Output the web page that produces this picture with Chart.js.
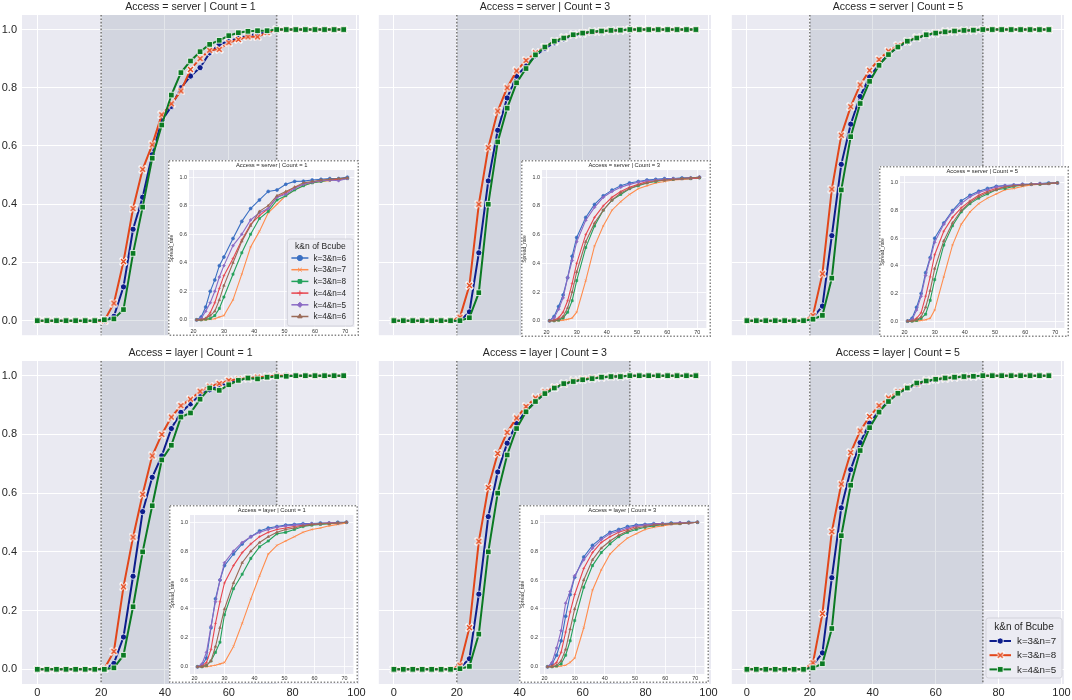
<!DOCTYPE html>
<html>
<head>
<meta charset="utf-8">
<script src="https://cdn.jsdelivr.net/npm/chart.js@4.4.0/dist/chart.umd.min.js"></script>
<style>
  html, body { margin: 0; padding: 0; background: #fff; }
  #wrap { position: relative; width: 1072px; height: 700px; overflow: hidden; }
  #wrap canvas { position: absolute; }
</style>
</head>
<body>
<div id="wrap"></div>
<script>
// ---- data ----
const X_MAIN = [0, 3, 6, 9, 12, 15, 18, 21, 24, 27, 30, 33, 36, 39, 42, 45, 48, 51, 54, 57, 60, 63, 66, 69, 72, 75, 78, 81, 84, 87, 90, 93, 96];
const X_TICKS = [0, 20, 40, 60, 80, 100];
const Y_TICKS = [0, 0.2, 0.4, 0.6, 0.8, 1.0];
const SHADE_FROM = 20, SHADE_TO = 75;
const MAIN_LABELS = ['k=3&n=7', 'k=3&n=8', 'k=4&n=5'];

// Access = server
const srv1_k3n7 = [0,0,0,0,0,0,0,0, 0.015,0.116,0.314,0.424,0.57,0.687,0.736,0.80,0.84,0.869,0.92,0.949,0.96,0.97,0.98,0.985,0.99, 1,1,1,1,1,1,1,1];
const srv1_k3n8 = [0,0,0,0,0,0,0,0, 0.06,0.203,0.385,0.52,0.604,0.707,0.745,0.789,0.863,0.90,0.929,0.932,0.955,0.966,0.975,0.975,0.99, 1,1,1,1,1,1,1,1];
const srv1_k4n5 = [0,0,0,0,0,0,0,0.003, 0.006,0.038,0.231,0.39,0.558,0.672,0.775,0.852,0.892,0.924,0.949,0.963,0.979,0.989,0.994,0.996,0.996, 1,1,1,1,1,1,1,1];
const srv3_k3n7 = [0,0,0,0,0,0,0,0, 0.03,0.233,0.48,0.654,0.765,0.84,0.875,0.91,0.935,0.955,0.968,0.98,0.986,0.99,0.994,0.996,0.998, 1,1,1,1,1,1,1,1];
const srv3_k3n8 = [0,0,0,0,0,0,0,0.012, 0.121,0.40,0.594,0.72,0.80,0.858,0.894,0.92,0.94,0.96,0.972,0.982,0.988,0.992,0.995,0.997,0.998, 1,1,1,1,1,1,1,1];
const srv3_k4n5 = [0,0,0,0,0,0,0,0, 0.01,0.096,0.40,0.614,0.73,0.817,0.866,0.913,0.94,0.96,0.971,0.982,0.988,0.993,0.995,0.997,0.998, 1,1,1,1,1,1,1,1];
const srv5_k3n7 = [0,0,0,0,0,0,0,0.01, 0.05,0.292,0.537,0.675,0.77,0.837,0.88,0.915,0.94,0.958,0.97,0.98,0.986,0.99,0.994,0.996,0.998, 1,1,1,1,1,1,1,1];
const srv5_k3n8 = [0,0,0,0,0,0,0,0.018, 0.161,0.452,0.637,0.735,0.81,0.86,0.897,0.926,0.945,0.96,0.972,0.982,0.988,0.992,0.995,0.997,0.998, 1,1,1,1,1,1,1,1];
const srv5_k4n5 = [0,0,0,0,0,0,0,0.005, 0.018,0.146,0.449,0.632,0.746,0.822,0.877,0.914,0.94,0.96,0.971,0.982,0.988,0.992,0.995,0.997,0.998, 1,1,1,1,1,1,1,1];
// Access = layer
const lay1_k3n7 = [0,0,0,0,0,0,0,0, 0.02,0.11,0.317,0.537,0.654,0.727,0.82,0.875,0.904,0.935,0.952,0.965,0.975,0.985,0.99,0.993,0.996, 0.998,1,1,1,1,1,1,1];
const lay1_k3n8 = [0,0,0,0,0,0,0,0.002, 0.061,0.281,0.45,0.596,0.727,0.80,0.859,0.898,0.92,0.947,0.964,0.973,0.984,0.988,0.992,0.995,0.997, 1,1,1,1,1,1,1,1];
const lay1_k4n5 = [0,0,0,0,0,0,0,0, 0.005,0.048,0.213,0.40,0.557,0.713,0.763,0.859,0.873,0.92,0.958,0.95,0.969,0.984,0.992,0.989,0.995, 0.997,0.998,1,1,1,1,1,1];
const lay3_k3n7 = [0,0,0,0,0,0,0,0.005, 0.036,0.256,0.52,0.672,0.77,0.838,0.88,0.912,0.94,0.958,0.97,0.98,0.986,0.99,0.994,0.996,0.998, 1,1,1,1,1,1,1,1];
const lay3_k3n8 = [0,0,0,0,0,0,0,0.014, 0.142,0.436,0.619,0.735,0.807,0.856,0.895,0.924,0.945,0.96,0.972,0.982,0.988,0.992,0.995,0.997,0.998, 1,1,1,1,1,1,1,1];
const lay3_k4n5 = [0,0,0,0,0,0,0,0.002, 0.01,0.12,0.40,0.60,0.73,0.82,0.877,0.912,0.939,0.958,0.973,0.98,0.986,0.99,0.995,0.997,0.997, 1,1,1,1,1,1,1,1];
const lay5_k3n7 = [0,0,0,0,0,0,0,0.014, 0.056,0.312,0.55,0.68,0.772,0.838,0.88,0.913,0.94,0.958,0.97,0.98,0.986,0.99,0.994,0.996,0.998, 1,1,1,1,1,1,1,1];
const lay5_k3n8 = [0,0,0,0,0,0,0,0.022, 0.19,0.469,0.631,0.738,0.812,0.861,0.898,0.924,0.945,0.96,0.972,0.982,0.988,0.992,0.995,0.997,0.998, 1,1,1,1,1,1,1,1];
const lay5_k4n5 = [0,0,0,0,0,0,0,0.005, 0.019,0.139,0.455,0.627,0.745,0.823,0.876,0.912,0.94,0.958,0.975,0.982,0.988,0.992,0.995,0.997,0.998, 1,1,1,1,1,1,1,1];

// insets (zoomed 20..70 view, six configurations)
const X_INSET = [21, 22.5, 24, 25.5, 27, 28.5, 30, 33, 35.9, 38.8, 41.7, 44.6, 47.5, 50.4, 53.3, 56.2, 59.1, 62, 64.9, 67.8, 70.7];
const X_INSET_TICKS = [20, 30, 40, 50, 60, 70];
const INSET_LABELS = ['k=3&n=6', 'k=3&n=7', 'k=3&n=8', 'k=4&n=4', 'k=4&n=5', 'k=4&n=6'];

const in_srv1_k3n6 = [0,0.02,0.09,0.2,0.28,0.38,0.44,0.57,0.69,0.78,0.84,0.9,0.91,0.95,0.97,0.972,0.98,0.985,0.99,0.99,1.0];
const in_srv1_k3n7 = [0,0,0,0.005,0.008,0.02,0.03,0.14,0.32,0.51,0.62,0.75,0.81,0.87,0.91,0.94,0.96,0.97,0.975,0.985,0.99];
const in_srv1_k3n8 = [0,0,0.005,0.01,0.03,0.08,0.16,0.32,0.47,0.6,0.71,0.76,0.84,0.87,0.91,0.94,0.96,0.97,0.98,0.985,0.99];
const in_srv1_k4n4 = [0,0.005,0.01,0.05,0.12,0.22,0.31,0.43,0.56,0.67,0.73,0.78,0.86,0.89,0.93,0.95,0.965,0.975,0.98,0.985,0.99];
const in_srv1_k4n5 = [0,0.01,0.06,0.12,0.2,0.3,0.38,0.52,0.6,0.7,0.75,0.78,0.86,0.88,0.92,0.95,0.965,0.975,0.98,0.975,0.99];
const in_srv1_k4n6 = [0,0,0.01,0.03,0.06,0.14,0.24,0.4,0.55,0.66,0.76,0.8,0.87,0.9,0.93,0.96,0.97,0.98,0.985,0.99,0.995];

const in_srv3_k3n6 = [0,0.03,0.1,0.18,0.3,0.45,0.58,0.72,0.81,0.87,0.91,0.94,0.96,0.97,0.98,0.985,0.99,0.99,0.995,0.995,1.0];
const in_srv3_k3n7 = [0,0,0,0.005,0.01,0.02,0.06,0.28,0.52,0.66,0.77,0.83,0.88,0.92,0.94,0.96,0.97,0.98,0.985,0.99,0.995];
const in_srv3_k3n8 = [0,0,0.005,0.02,0.06,0.14,0.28,0.51,0.66,0.77,0.84,0.88,0.92,0.94,0.96,0.97,0.98,0.985,0.99,0.99,0.995];
const in_srv3_k4n4 = [0,0.005,0.02,0.06,0.14,0.26,0.4,0.6,0.72,0.8,0.86,0.9,0.93,0.95,0.97,0.975,0.98,0.985,0.99,0.99,0.995];
const in_srv3_k4n5 = [0,0.02,0.08,0.16,0.3,0.42,0.55,0.7,0.79,0.86,0.9,0.93,0.95,0.965,0.975,0.98,0.985,0.99,0.99,0.995,1.0];
const in_srv3_k4n6 = [0,0,0.01,0.03,0.09,0.2,0.34,0.55,0.68,0.77,0.84,0.89,0.92,0.945,0.96,0.975,0.98,0.985,0.99,0.995,1.0];

const in_srv5_k3n6 = [0,0.02,0.1,0.2,0.35,0.46,0.6,0.71,0.8,0.87,0.91,0.94,0.96,0.975,0.98,0.985,0.99,0.99,0.995,1.0,1.0];
const in_srv5_k3n7 = [0,0,0,0.005,0.01,0.02,0.08,0.32,0.55,0.7,0.79,0.85,0.89,0.92,0.95,0.96,0.975,0.985,0.99,0.995,1.0];
const in_srv5_k3n8 = [0,0,0.005,0.02,0.05,0.15,0.3,0.55,0.69,0.79,0.85,0.89,0.92,0.95,0.96,0.975,0.985,0.99,0.99,0.995,1.0];
const in_srv5_k4n4 = [0,0.005,0.02,0.06,0.18,0.32,0.48,0.65,0.75,0.82,0.87,0.91,0.94,0.96,0.97,0.98,0.985,0.99,0.995,0.995,1.0];
const in_srv5_k4n5 = [0,0.01,0.08,0.18,0.33,0.45,0.57,0.7,0.79,0.85,0.9,0.93,0.95,0.97,0.98,0.985,0.99,0.99,0.995,0.995,1.0];
const in_srv5_k4n6 = [0,0,0.01,0.03,0.1,0.22,0.38,0.58,0.71,0.8,0.86,0.9,0.93,0.95,0.97,0.98,0.985,0.99,0.99,0.995,1.0];

const in_lay1_k3n6 = [0,0.01,0.06,0.27,0.47,0.6,0.7,0.78,0.85,0.9,0.94,0.96,0.97,0.98,0.985,0.99,0.99,0.995,0.995,1.0,1.0];
const in_lay1_k3n7 = [0,0,0,0.005,0.01,0.02,0.03,0.14,0.3,0.47,0.63,0.78,0.84,0.87,0.9,0.93,0.95,0.96,0.975,0.985,0.995];
const in_lay1_k3n8 = [0,0,0.01,0.04,0.1,0.17,0.36,0.54,0.64,0.75,0.83,0.87,0.92,0.93,0.95,0.97,0.98,0.985,0.99,0.995,1.0];
const in_lay1_k4n4 = [0,0.005,0.03,0.12,0.3,0.45,0.58,0.7,0.79,0.85,0.9,0.93,0.95,0.96,0.97,0.98,0.985,0.99,0.995,0.995,1.0];
const in_lay1_k4n5 = [0,0.02,0.1,0.28,0.45,0.6,0.72,0.8,0.86,0.9,0.93,0.95,0.965,0.975,0.98,0.985,0.99,0.99,0.995,0.995,1.0];
const in_lay1_k4n6 = [0,0,0.01,0.04,0.14,0.27,0.4,0.58,0.72,0.8,0.86,0.9,0.93,0.95,0.96,0.975,0.985,0.99,0.99,0.995,1.0];

const in_lay3_k3n6 = [0,0.02,0.08,0.18,0.35,0.5,0.62,0.76,0.84,0.89,0.93,0.95,0.97,0.98,0.985,0.99,0.99,0.995,0.995,1.0,1.0];
const in_lay3_k3n7 = [0,0,0,0.005,0.01,0.03,0.06,0.27,0.53,0.67,0.78,0.84,0.89,0.92,0.95,0.965,0.975,0.985,0.99,0.995,1.0];
const in_lay3_k3n8 = [0,0,0.005,0.02,0.08,0.18,0.32,0.55,0.7,0.79,0.85,0.9,0.93,0.95,0.965,0.975,0.985,0.99,0.99,0.995,1.0];
const in_lay3_k4n4 = [0,0.005,0.03,0.1,0.24,0.38,0.5,0.68,0.79,0.86,0.9,0.93,0.95,0.97,0.98,0.985,0.99,0.99,0.995,0.995,1.0];
const in_lay3_k4n5 = [0,0.03,0.13,0.25,0.44,0.52,0.63,0.74,0.82,0.88,0.92,0.94,0.96,0.975,0.98,0.985,0.99,0.99,0.995,0.995,1.0];
const in_lay3_k4n6 = [0,0,0.01,0.04,0.12,0.26,0.4,0.6,0.74,0.82,0.87,0.91,0.94,0.96,0.97,0.98,0.985,0.99,0.99,0.995,1.0];

// ---- styles ----
const FONT = '"Liberation Sans", Arial, sans-serif';
const TEXT = '#262626';
const BG = '#EAEAF2';
const MAIN_COLORS = ['#0d1d8c', '#e2461a', '#0b7a23'];
const INSET_COLORS = ['#3a6fc2', '#ff8c4c', '#23a15b', '#e8454e', '#8b6ac4', '#9a6a57'];
const INSET_MARKERS = ['circle', 'crossRot', 'rect', 'cross', 'rectRot', 'triangle'];

function makeX(color, s) {
  const c = document.createElement('canvas');
  c.width = c.height = s;
  const g = c.getContext('2d');
  const m = s / 2, r = s / 2 - 2;
  function cross(lw, col) {
    g.strokeStyle = col; g.lineWidth = lw;
    g.beginPath();
    g.moveTo(m - r, m - r); g.lineTo(m + r, m + r);
    g.moveTo(m + r, m - r); g.lineTo(m - r, m + r);
    g.stroke();
  }
  g.lineCap = 'square'; cross(3, '#fff');
  g.lineCap = 'butt'; cross(1.5, color);
  return c;
}
const X_IMG = makeX(MAIN_COLORS[1], 9);
const MAIN_MARKERS = ['circle', X_IMG, 'rect'];
const MAIN_RADII = [3.1, 3, 4];

const wrap = document.getElementById('wrap');
function addCanvas(x, y, w, h) {
  const c = document.createElement('canvas');
  c.width = w; c.height = h;
  c.style.left = x + 'px'; c.style.top = y + 'px';
  c.style.width = w + 'px'; c.style.height = h + 'px';
  wrap.appendChild(c);
  return c;
}
function zeroPad(s) { s.paddingLeft = 0; s.paddingRight = 0; s.paddingTop = 0; s.paddingBottom = 0; }

function drawLegend(ctx, box, title, labels, handle) {
  ctx.save();
  ctx.fillStyle = 'rgba(236,236,243,0.88)';
  ctx.strokeStyle = '#cdcdd4';
  ctx.lineWidth = 0.8;
  ctx.beginPath();
  ctx.roundRect(box.x, box.y, box.w, box.h, 2.5);
  ctx.fill(); ctx.stroke();
  ctx.fillStyle = TEXT;
  ctx.textBaseline = 'middle';
  ctx.textAlign = 'center';
  ctx.font = box.titleSize + 'px ' + FONT;
  ctx.fillText(title, box.x + box.w / 2, box.y + box.titleDy);
  labels.forEach((lab, i) => {
    const y = box.y + box.firstDy + i * box.step;
    handle(ctx, i, box.x + box.h0, box.x + box.h1, y);
    ctx.fillStyle = TEXT;
    ctx.textAlign = 'left';
    ctx.font = box.labelSize + 'px ' + FONT;
    ctx.fillText(lab, box.x + box.labelDx, y + 0.5);
  });
  ctx.restore();
}

function mainPanel(p) {
  const canvas = addCanvas(p.x, p.y, p.w, p.h);
  const datasets = p.series.map((ys, i) => ({
    label: MAIN_LABELS[i],
    data: X_MAIN.map((x, j) => ({ x: x, y: ys[j] })),
    borderColor: MAIN_COLORS[i],
    backgroundColor: MAIN_COLORS[i],
    borderWidth: 2,
    pointStyle: MAIN_MARKERS[i],
    pointRadius: MAIN_RADII[i],
    pointBackgroundColor: MAIN_COLORS[i],
    pointBorderColor: '#fff',
    pointBorderWidth: 0.8,
    tension: 0,
    order: 3 - i
  }));
  const plugin = {
    id: 'panelDeco',
    beforeDraw(chart) {
      const a = chart.chartArea, ctx = chart.ctx;
      ctx.save();
      ctx.fillStyle = BG;
      ctx.fillRect(a.left, a.top, a.right - a.left, a.bottom - a.top);
      ctx.restore();
    },
    beforeDatasetsDraw(chart) {
      const a = chart.chartArea, ctx = chart.ctx, xs = chart.scales.x;
      const x0 = xs.getPixelForValue(SHADE_FROM), x1 = xs.getPixelForValue(SHADE_TO);
      ctx.save();
      ctx.fillStyle = 'rgba(115,128,152,0.2)';
      ctx.fillRect(x0, a.top, x1 - x0, a.bottom - a.top);
      ctx.strokeStyle = '#7c7c7c';
      ctx.lineWidth = 1.6;
      ctx.setLineDash([1.6, 1.8]);
      [x0, x1].forEach(x => {
        ctx.beginPath(); ctx.moveTo(x, a.top); ctx.lineTo(x, a.bottom); ctx.stroke();
      });
      ctx.restore();
    },
    afterDraw(chart) {
      const a = chart.chartArea, ctx = chart.ctx;
      ctx.save();
      ctx.fillStyle = TEXT;
      ctx.font = '10.6px ' + FONT;
      ctx.textAlign = 'center';
      ctx.textBaseline = 'middle';
      ctx.fillText(p.title, (a.left + a.right) / 2, a.top - 8);
      ctx.restore();
      if (p.legend) {
        const box = { x: a.right - 78, y: a.bottom - 66, w: 76, h: 60, titleSize: 10, titleDy: 9, firstDy: 23, step: 14.2, labelSize: 9.8, h0: 3.5, h1: 25, labelDx: 31 };
        drawLegend(ctx, box, 'k&n of Bcube', MAIN_LABELS, (c, i, xa, xb, y) => {
          c.save();
          c.strokeStyle = MAIN_COLORS[i]; c.lineWidth = 2;
          c.beginPath(); c.moveTo(xa, y); c.lineTo(xb, y); c.stroke();
          c.fillStyle = MAIN_COLORS[i]; c.strokeStyle = '#fff'; c.lineWidth = 0.8;
          Chart.helpers.drawPoint(c, { pointStyle: MAIN_MARKERS[i], radius: MAIN_RADII[i], rotation: 0, borderWidth: 0.8 }, (xa + xb) / 2, y);
          c.restore();
        });
      }
    }
  };
  new Chart(canvas, {
    type: 'line',
    data: { datasets: datasets },
    options: {
      responsive: false,
      animation: false,
      events: [],
      layout: { padding: { top: 15, left: 0, right: p.padR, bottom: 0 } },
      plugins: { legend: { display: false }, tooltip: { enabled: false } },
      scales: {
        x: {
          type: 'linear', min: -4.8, max: 100.8,
          afterBuildTicks: s => { s.ticks = X_TICKS.map(v => ({ value: v })); },
          afterFit: s => { s.height = p.xh; zeroPad(s); },
          grid: { color: '#fff', lineWidth: 1, drawTicks: false },
          border: { display: false },
          ticks: { display: p.showX, padding: 2, color: TEXT, font: { family: FONT, size: 11 } }
        },
        y: {
          type: 'linear', min: -0.05, max: 1.05,
          afterBuildTicks: s => { s.ticks = Y_TICKS.map(v => ({ value: v })); },
          afterFit: s => { s.width = p.yw; zeroPad(s); },
          grid: { color: '#fff', lineWidth: 1, drawTicks: false },
          border: { display: false },
          ticks: { display: p.showY, padding: 5, color: TEXT, font: { family: FONT, size: 11 }, callback: v => Number(v).toFixed(1) }
        }
      }
    },
    plugins: [plugin]
  });
}

function insetPanel(p) {
  const canvas = addCanvas(p.x, p.y, p.w, p.h);
  const datasets = p.series.map((ys, i) => ({
    label: INSET_LABELS[i],
    data: X_INSET.map((x, j) => ({ x: x, y: ys[j] })),
    borderColor: INSET_COLORS[i],
    backgroundColor: INSET_COLORS[i],
    borderWidth: 1.1,
    pointStyle: INSET_MARKERS[i],
    pointRadius: 1.5,
    pointBackgroundColor: INSET_COLORS[i],
    pointBorderColor: INSET_COLORS[i],
    pointBorderWidth: 0.6,
    tension: 0,
    order: 6 - i
  }));
  const plugin = {
    id: 'insetDeco',
    beforeDraw(chart) {
      const a = chart.chartArea, ctx = chart.ctx;
      ctx.save();
      ctx.fillStyle = '#fff';
      ctx.fillRect(0, 0, p.w, p.h);
      ctx.strokeStyle = '#858585';
      ctx.lineWidth = 1.5;
      ctx.setLineDash([1.5, 1.8]);
      ctx.strokeRect(0.75, 0.75, p.w - 1.5, p.h - 1.5);
      ctx.setLineDash([]);
      ctx.fillStyle = BG;
      ctx.fillRect(a.left, a.top, a.right - a.left, a.bottom - a.top);
      ctx.restore();
    },
    afterDraw(chart) {
      const a = chart.chartArea, ctx = chart.ctx;
      ctx.save();
      ctx.fillStyle = TEXT;
      ctx.font = '5.8px ' + FONT;
      ctx.textAlign = 'center';
      ctx.textBaseline = 'middle';
      ctx.fillText(p.title, (a.left + a.right) / 2, a.top - 5);
      ctx.restore();
      if (p.legend) {
        const box = { x: a.right - 67, y: a.bottom - 88, w: 66, h: 87, titleSize: 8.5, titleDy: 8, firstDy: 19, step: 11.7, labelSize: 8.2, h0: 4, h1: 21, labelDx: 26 };
        drawLegend(ctx, box, 'k&n of Bcube', INSET_LABELS, (c, i, xa, xb, y) => {
          c.save();
          c.strokeStyle = INSET_COLORS[i]; c.lineWidth = 1.5;
          c.beginPath(); c.moveTo(xa, y); c.lineTo(xb, y); c.stroke();
          c.fillStyle = INSET_COLORS[i]; c.strokeStyle = INSET_COLORS[i]; c.lineWidth = 1;
          Chart.helpers.drawPoint(c, { pointStyle: INSET_MARKERS[i], radius: 2.6, rotation: 0, borderWidth: 1 }, (xa + xb) / 2, y);
          c.restore();
        });
      }
    }
  };
  new Chart(canvas, {
    type: 'line',
    data: { datasets: datasets },
    options: {
      responsive: false,
      animation: false,
      events: [],
      layout: { padding: { top: 10, left: 0, right: 3, bottom: 0 } },
      plugins: { legend: { display: false }, tooltip: { enabled: false } },
      scales: {
        x: {
          type: 'linear', min: 18.5, max: 73,
          afterBuildTicks: s => { s.ticks = X_INSET_TICKS.map(v => ({ value: v })); },
          afterFit: s => { s.height = 9; zeroPad(s); },
          grid: { color: '#fff', lineWidth: 0.8, drawTicks: false },
          border: { display: false },
          ticks: { padding: 1.5, color: '#333', font: { family: FONT, size: 5.4 } }
        },
        y: {
          type: 'linear', min: -0.05, max: 1.05,
          afterBuildTicks: s => { s.ticks = Y_TICKS.map(v => ({ value: v })); },
          afterFit: s => { s.width = 21; zeroPad(s); },
          grid: { color: '#fff', lineWidth: 0.8, drawTicks: false },
          border: { display: false },
          title: { display: true, text: 'Spread_rate', color: '#333', font: { family: FONT, size: 5 }, padding: { top: 1, bottom: 0 } },
          ticks: { padding: 2, color: '#333', font: { family: FONT, size: 5.4 }, callback: v => Number(v).toFixed(1) }
        }
      }
    },
    plugins: [plugin]
  });
}

// ---- main grid: 2 rows x 3 columns ----
mainPanel({ x: 0,   y: 0,   w: 371, h: 340, yw: 22, xh: 3,  padR: 12, showY: true,  showX: false, title: 'Access = server | Count = 1', series: [srv1_k3n7, srv1_k3n8, srv1_k4n5] });
mainPanel({ x: 374, y: 0,   w: 349, h: 340, yw: 0,  xh: 3,  padR: 12, showY: false, showX: false, title: 'Access = server | Count = 3', series: [srv3_k3n7, srv3_k3n8, srv3_k4n5] });
mainPanel({ x: 727, y: 0,   w: 349, h: 340, yw: 0,  xh: 3,  padR: 12, showY: false, showX: false, title: 'Access = server | Count = 5', series: [srv5_k3n7, srv5_k3n8, srv5_k4n5] });
mainPanel({ x: 0,   y: 346, w: 371, h: 354, yw: 22, xh: 16, padR: 12, showY: true,  showX: true,  title: 'Access = layer | Count = 1',  series: [lay1_k3n7, lay1_k3n8, lay1_k4n5] });
mainPanel({ x: 374, y: 346, w: 349, h: 354, yw: 0,  xh: 16, padR: 12, showY: false, showX: true,  title: 'Access = layer | Count = 3',  series: [lay3_k3n7, lay3_k3n8, lay3_k4n5] });
mainPanel({ x: 727, y: 346, w: 349, h: 354, yw: 0,  xh: 16, padR: 12, showY: false, showX: true,  title: 'Access = layer | Count = 5',  series: [lay5_k3n7, lay5_k3n8, lay5_k4n5], legend: true });

// ---- insets ----
insetPanel({ x: 168, y: 160, w: 191, h: 176, title: 'Access = server | Count = 1', legend: true,
  series: [in_srv1_k3n6, in_srv1_k3n7, in_srv1_k3n8, in_srv1_k4n4, in_srv1_k4n5, in_srv1_k4n6] });
insetPanel({ x: 521, y: 160, w: 190, h: 177, title: 'Access = server | Count = 3',
  series: [in_srv3_k3n6, in_srv3_k3n7, in_srv3_k3n8, in_srv3_k4n4, in_srv3_k4n5, in_srv3_k4n6] });
insetPanel({ x: 879, y: 166, w: 190, h: 171, title: 'Access = server | Count = 5',
  series: [in_srv5_k3n6, in_srv5_k3n7, in_srv5_k3n8, in_srv5_k4n4, in_srv5_k4n5, in_srv5_k4n6] });
insetPanel({ x: 169, y: 505, w: 189, h: 178, title: 'Access = layer | Count = 1',
  series: [in_lay1_k3n6, in_lay1_k3n7, in_lay1_k3n8, in_lay1_k4n4, in_lay1_k4n5, in_lay1_k4n6] });
insetPanel({ x: 519, y: 505, w: 190, h: 178, title: 'Access = layer | Count = 3',
  series: [in_lay3_k3n6, in_lay3_k3n7, in_lay3_k3n8, in_lay3_k4n4, in_lay3_k4n5, in_lay3_k4n6] });
</script>
</body>
</html>
